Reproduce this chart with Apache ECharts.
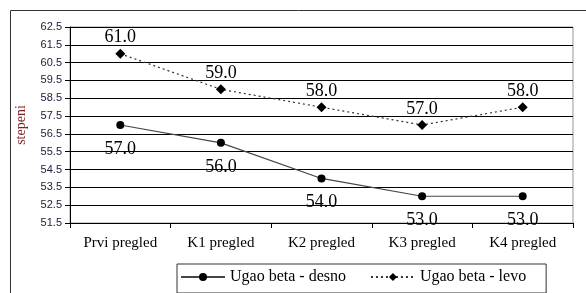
<!DOCTYPE html>
<html>
<head>
<meta charset="utf-8">
<script src="https://cdn.jsdelivr.net/npm/echarts@6/dist/echarts.min.js"></script>
<style>
html,body{margin:0;padding:0;background:#fff;}
#main{width:586px;height:293px;}
</style>
</head>
<body>
<div id="main"></div>
<script>
// kategorije i vrijednosti
var categories = ['Prvi pregled', 'K1 pregled', 'K2 pregled', 'K3 pregled', 'K4 pregled']
var desno = [57.0, 56.0, 54.0, 53.0, 53.0]
var levo = [61.0, 59.0, 58.0, 57.0, 58.0]
var yMin = 51.5
var yMax = 62.5
var yStep = 1

var myChart = echarts.init(document.getElementById('main'));
var serif = '"Times New Roman", "Liberation Serif", serif'
var sans = 'Arial, "Liberation Sans", sans-serif'

var option = {
    animation: false,
    backgroundColor: '#fff',
    textStyle: { fontFamily: serif },
    graphic: [
        {
            type: 'rect',
            shape: { x: 10.5, y: 10.5, width: 576, height: 290 },
            style: { fill: 'none', stroke: '#333', lineWidth: 1 },
            silent: true
        }
    ],
    grid: {
        left: 70,
        right: 13,
        top: 27,
        bottom: 70,
        show: true,
        borderColor: '#999',
        borderWidth: 1
    },
    legend: {
        left: 177,
        top: 264,
        itemWidth: 44,
        itemHeight: 10,
        itemGap: 24,
        padding: [5, 20, 8, 3],
        borderColor: '#333',
        borderWidth: 1,
        textStyle: { fontFamily: serif, fontSize: 16, color: '#000' },
        data: ['Ugao beta - desno', 'Ugao beta - levo']
    },
    xAxis: {
        type: 'category',
        data: categories,
        boundaryGap: true,
        axisLine: { lineStyle: { color: '#000', width: 1 } },
        axisTick: { show: true, length: 5, lineStyle: { color: '#000' } },
        axisLabel: { fontFamily: serif, fontSize: 15, color: '#000', margin: 13 },
        splitLine: { show: false }
    },
    yAxis: {
        type: 'value',
        min: yMin,
        max: yMax,
        interval: yStep,
        name: 'stepeni',
        nameLocation: 'middle',
        nameGap: 42,
        nameRotate: 90,
        nameTextStyle: { fontFamily: serif, fontSize: 14, color: '#7a1f1f' },
        axisLine: { show: true, lineStyle: { color: '#000', width: 1 } },
        axisTick: { show: true, length: 5, lineStyle: { color: '#000' } },
        axisLabel: {
            fontFamily: sans, fontSize: 11, color: '#1a1a3a', margin: 8,
            formatter: function (v) { return v.toFixed(1) }
        },
        splitLine: { show: true, lineStyle: { color: '#000', width: 1 } }
    },
    series: [
        {
            name: 'Ugao beta - desno',
            type: 'line',
            data: desno,
            symbol: 'circle',
            symbolSize: 8,
            itemStyle: { color: '#000' },
            lineStyle: { color: '#444', width: 1.2, type: 'solid' },
            label: {
                show: true,
                position: 'bottom',
                distance: 11,
                fontFamily: serif,
                fontSize: 18,
                color: '#000',
                formatter: function (p) { return p.value.toFixed(1) }
            }
        },
        {
            name: 'Ugao beta - levo',
            type: 'line',
            data: levo,
            symbol: 'diamond',
            symbolSize: 10,
            itemStyle: { color: '#000' },
            lineStyle: { color: '#333', width: 1.2, type: [2, 3] },
            label: {
                show: true,
                position: 'top',
                distance: 2,
                fontFamily: serif,
                fontSize: 18,
                color: '#000',
                formatter: function (p) { return p.value.toFixed(1) }
            }
        }
    ]
};
myChart.setOption(option);
</script>
</body>
</html>
